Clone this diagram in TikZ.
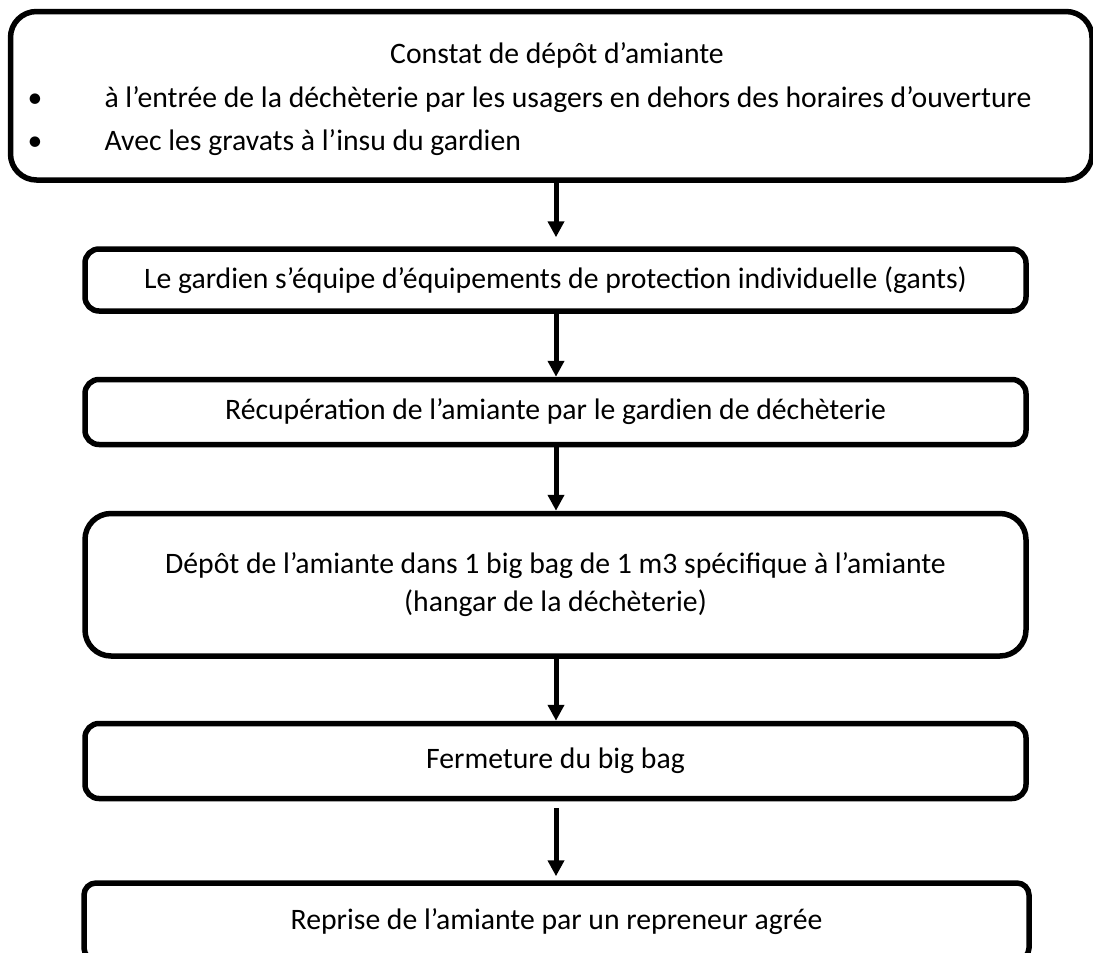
\documentclass[tikz,border=0pt]{standalone}
\usepackage{fontspec}
\setmainfont{Carlito}
\usepackage{tikz}
\usetikzlibrary{arrows.meta,positioning}

\tikzset{
  stepbox/.style={rectangle, rounded corners=14pt, draw=black, line width=5.5pt,
    minimum width=941pt, minimum height=62pt, inner sep=0pt,
    font=\fontsize{29.7}{38}\selectfont, align=center},
  flow/.style={-{Triangle[width=16pt,length=16pt]}, line width=5pt}
}

\begin{document}
\begin{tikzpicture}[x=1pt, y=-1pt]
  \useasboundingbox (0,0) rectangle (1093,953);

  % Define nodes
  \node[stepbox, rounded corners=26pt, minimum width=1081.5pt, minimum height=168.5pt]
    (constat) at (551.25,95.75) {};
  \node[anchor=base, font=\fontsize{29.7}{44}\selectfont] (titre) at (557,63)
    {Constat de dépôt d’amiante};
  \node[anchor=base, font=\fontsize{29.7}{44}\selectfont] (puce1) at (35,107) {•};
  \node[anchor=base west, font=\fontsize{29.7}{44}\selectfont] (entree) at (101,107)
    {à l’entrée de la déchèterie par les usagers en dehors des horaires d’ouverture};
  \node[anchor=base, font=\fontsize{29.7}{44}\selectfont] (puce2) at (35,150) {•};
  \node[anchor=base west, font=\fontsize{29.7}{44}\selectfont] (gravats) at (101,150)
    {Avec les gravats à l’insu du gardien};

  \node[stepbox, below=63.5pt of constat, xshift=4.25pt] (epi)
    {Le gardien s’équipe d’équipements de protection individuelle (gants)};
  \node[stepbox, minimum height=65pt, below=63pt of epi] (recup)
    {Récupération de l’amiante par le gardien de déchèterie};
  \node[stepbox, rounded corners=26pt, minimum height=142.5pt, below=63.5pt of recup] (depot)
    {Dépôt de l’amiante dans 1 big bag de 1 m3 spécifique à l’amiante\\(hangar de la déchèterie)};
  \node[stepbox, minimum height=75pt, below=62pt of depot] (fermeture)
    {Fermeture du big bag};
  \node[stepbox, rounded corners=12pt, minimum width=945pt, minimum height=77pt,
    below=79pt of fermeture, xshift=1pt] (reprise)
    {Reprise de l’amiante par un repreneur agrée};

  \draw[flow, shorten >=9pt] (constat.south -| 556,0) -- (epi.north -| 556,0);
  \draw[flow] (epi.south -| 556,0) -- (recup.north -| 556,0);
  \draw[flow] (recup.south -| 556,0) -- (depot.north -| 556,0);
  \draw[flow] (depot.south -| 556,0) -- (fermeture.north -| 556,0);
  \draw[flow, shorten <=7pt, shorten >=4pt] (fermeture.south -| 556,0) -- (reprise.north -| 556,0);

\end{tikzpicture}
\end{document}
